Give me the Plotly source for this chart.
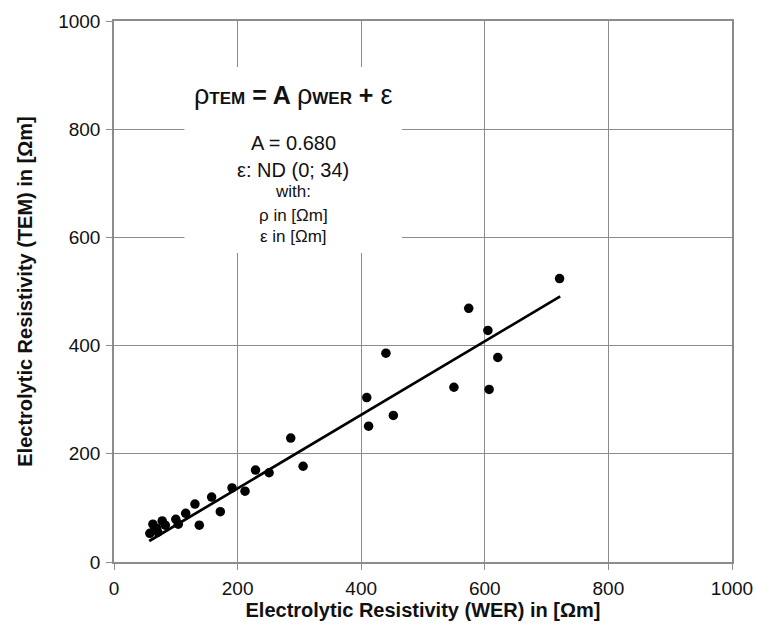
import plotly.graph_objects as go

# Data (WER resistivity vs TEM resistivity, in Ohm-m)
wer = [721, 574, 605, 621, 440, 409, 412, 452, 550, 607,
       286, 306, 251, 229, 212, 191, 172, 158, 131, 138,
       116, 100, 104, 78, 83, 63, 58, 69, 71, 66]
tem = [524, 469, 428, 378, 386, 304, 251, 271, 323, 319,
       229, 177, 165, 170, 131, 137, 93, 120, 107, 68,
       90, 79, 70, 76, 68, 70, 53, 62, 55, 60]

# Regression model rho_TEM = A * rho_WER
A = 0.680
fit_x = [57, 722]
fit_y = [A * v for v in fit_x]

tick_vals = [0, 200, 400, 600, 800, 1000]

FONT = "Liberation Sans, Arial, sans-serif"

fig = go.Figure()
fig.add_trace(go.Scatter(x=fit_x, y=fit_y, mode="lines",
                         line=dict(color="black", width=2.7),
                         showlegend=False, hoverinfo="skip"))
fig.add_trace(go.Scatter(x=wer, y=tem, mode="markers",
                         marker=dict(color="black", size=9.5),
                         showlegend=False))

axis_common = dict(range=[0, 1000], tickvals=tick_vals, automargin=False,
                   showgrid=True, gridcolor="#8c8c8c", gridwidth=1,
                   showline=True, linecolor="#8c8c8c", linewidth=1.5, mirror=True,
                   zeroline=False, ticks="outside", ticklen=6, tickcolor="#8c8c8c",
                   tickfont=dict(family=FONT, size=19, color="#111111"))

fig.update_xaxes(**axis_common, ticklabelstandoff=2,
                 title=dict(text="Electrolytic Resistivity (WER) in [Ωm]",
                            font=dict(family=FONT, size=20, color="#111111", weight="bold"),
                            standoff=5))
fig.update_yaxes(**axis_common, ticklabelstandoff=2,
                 title=dict(text="Electrolytic Resistivity (TEM) in [Ωm]",
                            font=dict(family=FONT, size=20, color="#111111", weight="bold"),
                            standoff=20))

# White box behind the formula text
fig.add_shape(type="rect", x0=114, x1=466, y0=571, y1=915, xref="x", yref="y",
              fillcolor="white", line=dict(width=0), layer="between")

eq = ('<span style="font-size:27px">ρ</span><b><span style="font-size:17px">TEM</span>'
      ' = A </b><span style="font-size:27px">ρ</span><b><span style="font-size:17px">WER</span>'
      ' + </b><span style="font-size:27px">ε</span>')
fig.add_annotation(x=290, y=863, xref="x", yref="y", text=eq, showarrow=False,
                   font=dict(family=FONT, size=25, color="#111111"))

lines = [("A = 0.680", 774, 20), ("ε: ND (0; 34)", 724, 20), ("with:", 684, 17),
         ("ρ in [Ωm]", 641, 17), ("ε in [Ωm]", 602, 17)]
for txt, yy, sz in lines:
    fig.add_annotation(x=290, y=yy, xref="x", yref="y", text=txt, showarrow=False,
                       font=dict(family=FONT, size=sz, color="#111111"))

fig.update_layout(width=757, height=632,
                  margin=dict(l=114, r=25, t=21, b=70),
                  paper_bgcolor="white", plot_bgcolor="white",
                  font=dict(family=FONT, color="#111111"))

fig.write_html("out.html")
